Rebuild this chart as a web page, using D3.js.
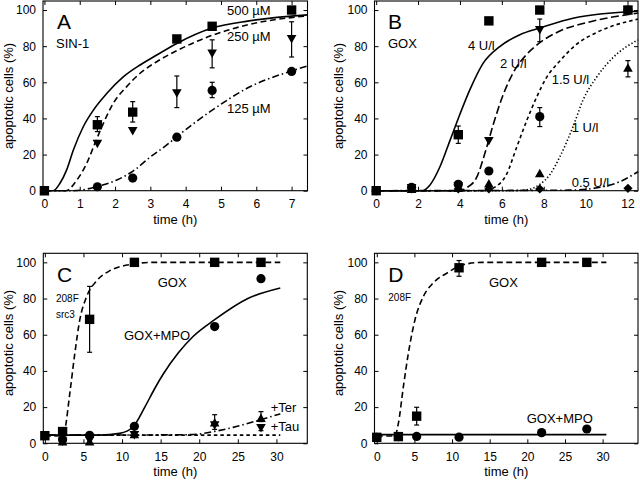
<!DOCTYPE html>
<html><head><meta charset="utf-8">
<script src="https://cdn.jsdelivr.net/npm/d3@7"></script>
<style>
body{margin:0;background:#fff}
svg{display:block}
text{font-family:"Liberation Sans",Arial,Helvetica,sans-serif;fill:#000}
</style>
</head><body>
<svg id="chart" width="640" height="486"></svg>
<script>
// ---------- DATA (time h, % apoptotic, [errLow, errHigh]) ----------
// Panel A: SIN-1
const aSq500 = [[0,0],[1.5,36.5,32.7,41],[2.5,43.5,38,49.3],[3.75,84],[4.75,91],[7,100]];
const aTri250 = [[1.5,26],[2.5,33],[3.75,54,46,63.5],[4.75,76,68,83.5],[7,84,74,93.5]];
const aCirc125 = [[1.5,2.2],[2.5,7],[3.75,29.6],[4.75,55.5,51.5,60],[7,66]];
const aFit500 = [[0,0],[0.25,0],[0.44,4.1],[0.63,11.5],[0.82,22.5],[1.1,35.4],[1.39,44.7],[1.77,53.9],[2.24,63.1],[2.71,69.6],[3.18,75.1],[3.75,81.5],[4.75,90],[5.8,94],[7.45,97.3]];
const aFit250 = [[0,0],[0.6,0],[0.92,5.9],[1.2,15.2],[1.43,26.2],[1.67,37.3],[1.95,48.4],[2.33,57.6],[2.71,65],[3.18,71.4],[3.75,77.5],[4.75,86],[5.8,92],[7.45,96.8]];
const aFit125 = [[0,0],[0.82,0],[1.48,2.2],[2.05,5.9],[2.52,11],[2.99,18.5],[3.51,26],[3.73,29.6],[4.71,44],[5.82,57.5],[6.95,66],[7.45,69]];
const aTicksX = [0,1,2,3,4,5,6,7];

// Panel B: GOX
const bSq4 = [[0,0],[3.92,31,26.2,35.8],[5.38,94],[7.81,100],[12.02,100]];
const bTri2 = [[1.69,1.5],[3.92,2.5],[5.38,27.5],[7.81,89,82.5,95],[12.02,100]];
const bCirc15 = [[0,0],[1.69,1.9],[3.92,3.5],[5.38,10.9],[7.81,41,35.5,46],[12.02,100]];
const bTriUp1 = [[1.69,1],[3.92,1.5],[5.38,4],[7.81,9.6],[12.02,68,63,72]];
const bDiam05 = [[1.69,1],[3.92,1],[5.38,1],[7.81,1],[12.02,1.3]];
const bFit4 = [[0,0],[2.2,0],[2.57,3.2],[3.05,13.4],[3.53,28],[3.92,40],[4.47,55.8],[5.11,70.6],[5.9,79.8],[6.86,86.3],[7.81,90],[9.4,95.5],[12.5,99.3]];
const bFit2 = [[0,0],[4.0,0],[4.3,1.5],[4.79,7.2],[5.27,23.8],[5.59,36.7],[6.07,53.3],[6.54,65.3],[7.18,75.4],[7.81,81.9],[8.77,88.4],[10.04,93],[12.5,98.3]];
const bFit15 = [[0,0],[5.2,0],[5.59,1.5],[6.22,9],[6.7,23.8],[7.18,38.6],[7.65,51.5],[8.13,62.6],[8.77,71.8],[9.56,81],[10.51,87.5],[12.5,95]];
const bFit1 = [[0,0],[6.5,0],[7.2,0.5],[7.81,3.5],[8.3,9],[8.77,18.8],[9.4,35.5],[9.88,50.3],[10.51,62.6],[11.31,73.7],[12.5,83.5]];
const bFit05 = [[0,0],[9.2,0.3],[10.83,2.2],[11.63,5],[12.5,10.5]];
const bTicksX = [0,2,4,6,8,10,12];

// Panel C: 208F src3
const cSqGOX = [[0,4.2],[2.3,6.5],[5.8,68.5,50.3,86.7],[11.6,100],[22,100],[28,100]];
const cCircMPO = [[2.3,2],[5.8,4.4],[11.6,9.4],[22,64.5],[28,91]];
const cTriUpTer = [[2.3,1],[5.8,1],[11.6,5],[22,11.5,7.7,15.8],[28,14,12,17.5]];
const cTriDnTau = [[2.3,1],[5.8,1.5],[11.6,4.6],[22,10],[28,8.4,7,10]];
const cFitGOX = [[0,4],[2.3,4.2],[2.59,7.5],[3.24,27.8],[3.89,49.9],[4.53,68.3],[5.4,80.9],[6.7,89.7],[8.42,95.4],[11.4,99],[14,100],[30.5,100]];
const cFitMPO = [[0,4.5],[7.1,4.5],[9.7,5.5],[11.4,9],[12.95,20],[14.2,30],[15.3,38],[17.3,50],[19.2,59],[22,68.3],[26.3,80],[30.5,85.8]];
const cFitTer = [[0,4.5],[18,4.7],[20.1,5.2],[22,6.6],[24.4,8.8],[27.9,13],[30.5,16.3]];
const cFitTau = [[0,4.5],[30.5,4.5]];
const cdTicksX = [0,5,10,15,20,25,30];

// Panel D: 208F
const dSqGOX = [[0,3.3],[2.87,3.7],[5.3,15,10.1,19.9],[10.93,97,92.3,101],[21.9,100],[27.9,100]];
const dCircMPO = [[0,3.3],[2.87,3.7],[5.3,3.8],[10.93,3.4],[21.9,5.9],[27.9,7.9]];
const dFitGOX = [[0,4],[2.4,4],[2.87,11],[3.54,31.4],[4.2,49.8],[5.08,68.3],[6.2,81.2],[7.5,88.6],[9.3,94],[11.5,98.7],[14,100],[30.5,100]];
const dFitMPO = [[0,4.8],[30.5,4.8]];

const yTicks = [0,20,40,60,80,100];

// ---------- DRAWING ----------
const svg = d3.select("#chart");
const DASH = {solid:null, dashed:"6,3.5", longdash:"8,3.5", short:"3.5,3", dotted:"1.3,2.2", dashdot:"7,3,1.5,3"};

function marker(g, type, cx, cy){
  let d;
  if(type==="sq"){ d=`M${cx-4.7},${cy-4.7}h9.4v9.4h-9.4z`; }
  else if(type==="circ"){ g.append("circle").attr("cx",cx).attr("cy",cy).attr("r",4.6).attr("fill","#000"); return; }
  else if(type==="tdn"){ d=`M${cx-4.8},${cy-4}L${cx+4.8},${cy-4}L${cx},${cy+4.5}z`; }
  else if(type==="tup"){ d=`M${cx-4.8},${cy+4}L${cx+4.8},${cy+4}L${cx},${cy-4.5}z`; }
  else if(type==="diam"){ d=`M${cx},${cy-4.6}L${cx+4.6},${cy}L${cx},${cy+4.6}L${cx-4.6},${cy}z`; }
  g.append("path").attr("d",d).attr("fill","#000");
}

function panel(cfg){
  const x = d3.scaleLinear().domain(cfg.xd).range([cfg.l,cfg.r]);
  const y = d3.scaleLinear().domain([0,105]).range([cfg.b,cfg.t]);
  const g = svg.append("g");

  const fs = "12px";
  const ax = g.append("g").attr("transform",`translate(0,${cfg.b})`)
    .call(d3.axisBottom(x).tickValues(cfg.xt).tickSize(-4).tickPadding(9));
  const ay = g.append("g").attr("transform",`translate(${cfg.l},0)`)
    .call(d3.axisLeft(y).tickValues(yTicks).tickSize(-4).tickPadding(7));
  const at = g.append("g").attr("transform",`translate(0,${cfg.t})`)
    .call(d3.axisTop(x).tickValues(cfg.xt).tickSize(-4).tickFormat(""));
  const ar = g.append("g").attr("transform",`translate(${cfg.r},0)`)
    .call(d3.axisRight(y).tickValues(yTicks).tickSize(-4).tickFormat(""));
  [ax,ay,at,ar].forEach(a=>{
    a.select(".domain").remove();
    a.attr("font-family",null).attr("font-size",null);
    a.selectAll("line").attr("stroke","#000").attr("stroke-width",1);
    a.selectAll("text").attr("font-size",fs).attr("fill","#000");
  });

  g.append("rect").attr("x",cfg.l).attr("y",cfg.t).attr("width",cfg.r-cfg.l).attr("height",cfg.b-cfg.t)
    .attr("fill","none").attr("stroke","#000").attr("stroke-width",1.1);

  g.append("text").attr("x",(cfg.l+cfg.r)/2).attr("y",cfg.b+33).attr("text-anchor","middle")
    .attr("font-size","13px").text("time (h)");
  g.append("text").attr("transform",`translate(${cfg.yl},${cfg.ylc}) rotate(-90)`)
    .attr("text-anchor","middle").attr("dy","0.35em").attr("font-size","13px").text("apoptotic cells (%)");

  const line = d3.line().x(d=>x(d[0])).y(d=>y(d[1])).curve(d3.curveMonotoneX);
  cfg.curves.forEach(c=>{
    g.append("path").attr("d",line(c.data)).attr("fill","none").attr("stroke","#000")
      .attr("stroke-width",1.6).attr("stroke-dasharray",DASH[c.style]);
  });

  cfg.series.forEach(s=>{
    s.data.forEach(d=>{
      if(d.length>2){
        const cx=x(d[0]), y1=y(d[2]), y2=y(d[3]);
        g.append("line").attr("x1",cx).attr("x2",cx).attr("y1",y1).attr("y2",y2).attr("stroke","#000").attr("stroke-width",1.2);
        [y1,y2].forEach(yy=>g.append("line").attr("x1",cx-2.5).attr("x2",cx+2.5).attr("y1",yy).attr("y2",yy).attr("stroke","#000").attr("stroke-width",1.2));
      }
    });
  });
  cfg.series.forEach(s=>{
    s.data.forEach(d=>marker(g,s.type,x(d[0]),y(d[1])));
  });

  cfg.labels.forEach(L=>{
    g.append("text").attr("x",L[0]).attr("y",L[1]).attr("font-size",L[3]+"px").text(L[2]);
  });
}

panel({l:43,r:307.5,t:1,b:190.7,xd:[-0.04,7.45],xt:aTicksX,yl:8.5,ylc:96,
  curves:[{data:aFit500,style:"solid"},{data:aFit250,style:"dashed"},{data:aFit125,style:"dashdot"}],
  series:[{type:"sq",data:aSq500},{type:"tdn",data:aTri250},{type:"circ",data:aCirc125}],
  labels:[[57,28.5,"A",21],[56,48,"SIN-1",13],[227,14.7,"500 \u00b5M",13],[227,40.7,"250 \u00b5M",13],[227,112.7,"125 \u00b5M",13]]});

panel({l:374.5,r:638,t:1,b:190.7,xd:[-0.08,12.5],xt:bTicksX,yl:338.5,ylc:96,
  curves:[{data:bFit4,style:"solid"},{data:bFit2,style:"longdash"},{data:bFit15,style:"short"},{data:bFit1,style:"dotted"},{data:bFit05,style:"dashdot"}],
  series:[{type:"diam",data:bDiam05},{type:"tup",data:bTriUp1},{type:"circ",data:bCirc15},{type:"tdn",data:bTri2},{type:"sq",data:bSq4}],
  labels:[[388,28.5,"B",21],[388,48,"GOX",13],[468,49.7,"4 U/l",13],[500,68,"2 U/l",13],[551.7,83.7,"1.5 U/l",13],[571.7,132,"1 U/l",13],[571.7,187,"0.5 U/l",13]]});

panel({l:43.3,r:307.3,t:253.3,b:443.3,xd:[-0.2,34],xt:cdTicksX,yl:8.5,ylc:343,
  curves:[{data:cFitGOX,style:"dashed"},{data:cFitTau,style:"short"},{data:cFitTer,style:"dashdot"},{data:cFitMPO,style:"solid"}],
  series:[{type:"tdn",data:cTriDnTau},{type:"tup",data:cTriUpTer},{type:"circ",data:cCircMPO},{type:"sq",data:cSqGOX}],
  labels:[[57,282.2,"C",21],[56,301.5,"208F",10],[56,317.5,"src3",10],[157.7,287,"GOX",13],[124,340.4,"GOX+MPO",13],[270.7,412,"+Ter",13],[270.7,431,"+Tau",13]]});

panel({l:374.5,r:638,t:253.3,b:443.3,xd:[-0.3,34.7],xt:cdTicksX,yl:338.5,ylc:343,
  curves:[{data:dFitGOX,style:"dashed"},{data:dFitMPO,style:"solid"}],
  series:[{type:"circ",data:dCircMPO},{type:"sq",data:dSqGOX}],
  labels:[[388.3,282.2,"D",21],[388.3,300.5,"208F",10],[489,287,"GOX",13],[526.7,422.7,"GOX+MPO",13]]});
</script>
</body></html>
